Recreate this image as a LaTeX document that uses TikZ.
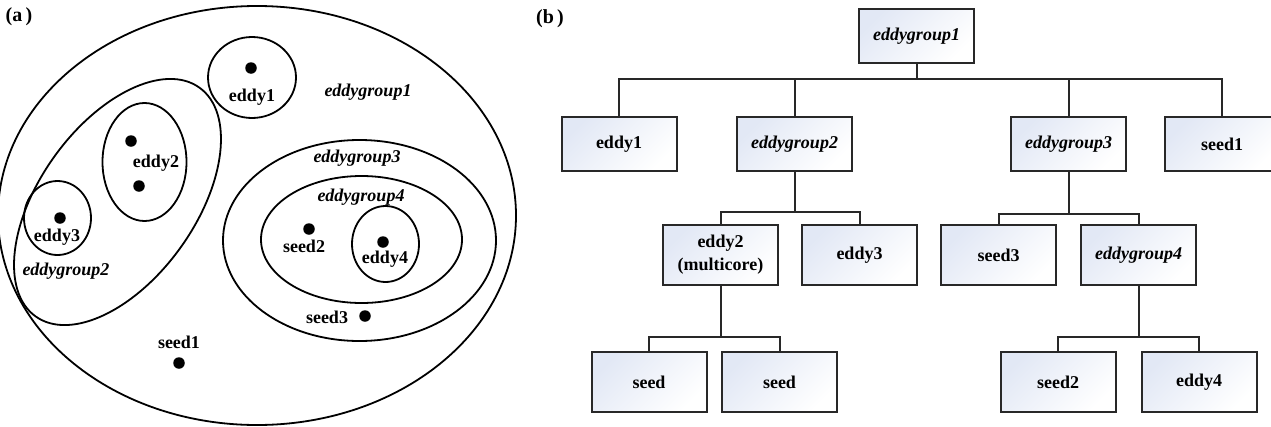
\documentclass[tikz,border=0pt]{standalone}
\usepackage{fontspec}
\setmainfont{Liberation Serif}
\definecolor{boxfill}{RGB}{226,232,245}
\definecolor{boxline}{RGB}{40,40,40}
\tikzset{
  lbl/.style={font=\fontsize{18}{20}\selectfont\bfseries, inner sep=0pt},
  ilbl/.style={font=\fontsize{18}{20}\selectfont\bfseries\itshape, inner sep=0pt},
  tag/.style={font=\fontsize{20}{22}\selectfont\bfseries, inner sep=0pt},
  dot/.style={circle, fill=black, inner sep=0pt, minimum size=11.5},
  ell/.style={line width=1.8, draw=black},
  treebox/.style={draw=boxline, line width=2, minimum width=115, minimum height=54,
    top color=boxfill, bottom color=white, shading angle=45, inner sep=2pt,
    font=\fontsize{18}{23}\selectfont\bfseries, align=center},
  tallbox/.style={treebox, minimum height=60},
  conn/.style={line width=2, draw=boxline},
}
\begin{document}
\begin{tikzpicture}[x=1pt, y=-1pt]
\useasboundingbox (0,0) rectangle (1271,426);
% ---------- (a) ----------
\node[tag] (la) at (19,17) {(a\,)};
\draw[ell] (257,215.5) ellipse [x radius=259, y radius=209.5];
\node[ilbl] (tg1) at (368,92) {eddygroup1};
% eddy1
\draw[ell] (252,77.5) ellipse [x radius=44, y radius=40.5];
\node[dot] (d1) at (251,68) {};
\node[lbl] (te1) at (252,97) {eddy1};
% eddygroup2
\draw[ell, rotate around={54.4:(117.5,202)}] (117.5,202) ellipse [x radius=140.7, y radius=77.8];
\node[ilbl] (tg2) at (66,271) {eddygroup2};
% eddy2
\draw[ell] (144.5,162) ellipse [x radius=42, y radius=59];
\node[dot] (d2a) at (131,141) {};
\node[dot] (d2b) at (139,186) {};
\node[lbl] (te2) at (156,163) {eddy2};
% eddy3
\draw[ell] (57.5,218) ellipse [x radius=33.5, y radius=37];
\node[dot] (d3) at (60,218) {};
\node[lbl] (te3) at (57,237) {eddy3};
% eddygroup3
\draw[ell] (359.5,240.5) ellipse [x radius=136.5, y radius=100.5];
\node[ilbl] (tg3) at (357,158) {eddygroup3};
% eddygroup4
\draw[ell] (361.5,239.5) ellipse [x radius=100.5, y radius=63.5];
\node[ilbl] (tg4) at (361,197) {eddygroup4};
% eddy4
\draw[ell] (385.5,244) ellipse [x radius=33.5, y radius=38];
\node[dot] (d4) at (383,242) {};
\node[lbl] (te4) at (385,259) {eddy4};
% seeds
\node[dot] (ds2) at (309,229) {};
\node[lbl] (ts2) at (304,246) {seed2};
\node[dot] (ds3) at (365,316) {};
\node[lbl] (ts3) at (327,317) {seed3};
\node[dot] (ds1) at (179,363) {};
\node[lbl] (ts1) at (179,342) {seed1};
% ---------- (b) ----------
\node[tag] (lb) at (550,19) {(b\,)};
\node[treebox] (g1) at (916.5,36) {\itshape eddygroup1};
\node[treebox] (e1) at (619,144) {eddy1};
\node[treebox] (g2) at (794.5,144) {\itshape eddygroup2};
\node[treebox] (g3) at (1068.5,144) {\itshape eddygroup3};
\node[treebox] (s1) at (1222,144) {seed1};
\node[tallbox] (e2) at (720.5,255) {eddy2\\(multicore)};
\node[tallbox] (e3) at (859.5,255) {eddy3};
\node[tallbox] (s3) at (998.5,255) {seed3};
\node[tallbox] (g4) at (1138.5,255) {\itshape eddygroup4};
\node[tallbox] (sa) at (649,382) {seed};
\node[tallbox] (sb) at (779.5,382) {seed};
\node[tallbox] (s2) at (1058,382) {seed2};
\node[tallbox] (e4) at (1199,382) {eddy4};
% bars
\coordinate (b1) at (916.5,79);
\coordinate (b2) at (794.5,212);
\coordinate (b3) at (1068.5,214);
\coordinate (b4) at (720.5,337);
\coordinate (b5) at (1138.5,337);
\draw[conn] (g1.south) -- (b1);
\foreach \c in {e1,g2,g3,s1} \draw[conn] (\c.north) |- (b1);
\draw[conn] (g2.south) -- (b2);
\foreach \c in {e2,e3} \draw[conn] (\c.north) |- (b2);
\draw[conn] (g3.south) -- (b3);
\foreach \c in {s3,g4} \draw[conn] (\c.north) |- (b3);
\draw[conn] (e2.south) -- (b4);
\foreach \c in {sa,sb} \draw[conn] (\c.north) |- (b4);
\draw[conn] (g4.south) -- (b5);
\foreach \c in {s2,e4} \draw[conn] (\c.north) |- (b5);
\end{tikzpicture}
\end{document}
